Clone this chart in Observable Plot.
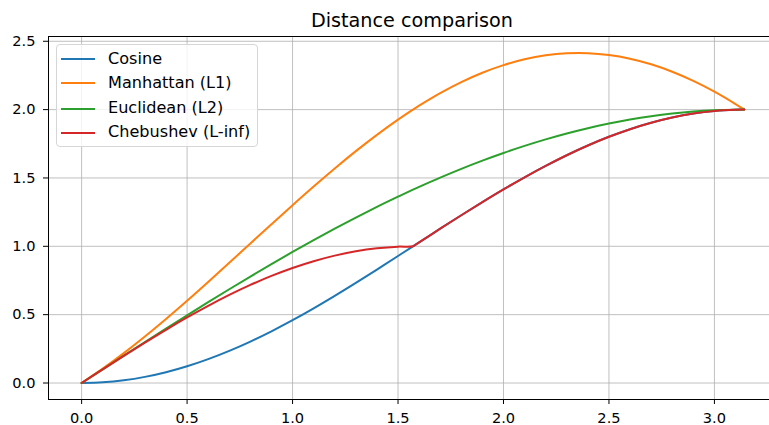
<!DOCTYPE html>
<html>
<head>
<meta charset="utf-8">
<script src="https://cdn.jsdelivr.net/npm/d3@7"></script>
<script src="https://cdn.jsdelivr.net/npm/@observablehq/plot@0.6"></script>
<style>
  html, body { margin: 0; padding: 0; background: #fff; overflow: hidden; }
  #wrap { position: relative; width: 769px; height: 425px; font-family: "DejaVu Sans", sans-serif; }
  #title { position: absolute; left: 0; width: 824px; top: 11px; text-align: center; font-size: 19.2px; color: #000; line-height: 1; white-space: nowrap; }
  #legend { position: absolute; left: 56px; top: 44px; width: 202px; height: 103px; box-sizing: border-box;
            border: 1px solid #d6d6d6; border-radius: 4px; background: rgba(255,255,255,0.8); }
  .row { position: absolute; left: 0; height: 20px; display: flex; align-items: center; font-size: 16.1px; color: #000; white-space: nowrap; }
  .swatch { position: absolute; left: 4px; width: 34px; height: 0; border-top: 2px solid; }
  .lbl { position: absolute; left: 51px; line-height: 1; }
</style>
</head>
<body>
<div id="wrap">
  <div id="chart"></div>
  <div id="title">Distance comparison</div>
  <div id="legend"></div>
</div>
<script>
// angle theta (radians) sampled from 0 to pi
const theta = [0, 0.1, 0.2, 0.3, 0.4, 0.5, 0.6, 0.7, 0.8, 0.9, 1.0, 1.1, 1.2, 1.3, 1.4, 1.5, 1.5708, 1.6, 1.7, 1.8, 1.9, 2.0, 2.1, 2.2, 2.3, 2.4, 2.5, 2.6, 2.7, 2.8, 2.9, 3.0, 3.1, 3.1416];
const cosineDist = [0, 0.0050, 0.0199, 0.0447, 0.0789, 0.1224, 0.1747, 0.2352, 0.3033, 0.3784, 0.4597, 0.5464, 0.6376, 0.7325, 0.8300, 0.9293, 1.0, 1.0292, 1.1288, 1.2272, 1.3233, 1.4162, 1.5049, 1.5885, 1.6663, 1.7374, 1.8011, 1.8569, 1.9041, 1.9422, 1.9710, 1.9900, 1.9991, 2.0];
const manhattanDist = [0, 0.1048, 0.2186, 0.3402, 0.4684, 0.6018, 0.7393, 0.8794, 1.0207, 1.1617, 1.3012, 1.4376, 1.5697, 1.6961, 1.8155, 1.9268, 2.0, 2.0288, 2.1205, 2.2011, 2.2696, 2.3255, 2.3681, 2.3970, 2.4120, 2.4129, 2.3996, 2.3724, 2.3315, 2.2772, 2.2102, 2.1311, 2.0407, 2.0];
const euclideanDist = [0, 0.1000, 0.1997, 0.2989, 0.3973, 0.4948, 0.5910, 0.6857, 0.7788, 0.8700, 0.9589, 1.0454, 1.1293, 1.2104, 1.2884, 1.3633, 1.4142, 1.4347, 1.5025, 1.5667, 1.6268, 1.6829, 1.7348, 1.7824, 1.8255, 1.8641, 1.8980, 1.9271, 1.9514, 1.9709, 1.9855, 1.9950, 1.9996, 2.0];
const chebyshevDist = [0, 0.0998, 0.1987, 0.2955, 0.3894, 0.4794, 0.5646, 0.6442, 0.7174, 0.7833, 0.8415, 0.8912, 0.9320, 0.9636, 0.9854, 0.9975, 1.0, 1.0292, 1.1288, 1.2272, 1.3233, 1.4162, 1.5049, 1.5885, 1.6663, 1.7374, 1.8011, 1.8569, 1.9041, 1.9422, 1.9710, 1.9900, 1.9991, 2.0];

const seriesNames = ["Cosine", "Manhattan (L1)", "Euclidean (L2)", "Chebushev (L-inf)"];
const seriesColors = ["#1f77b4", "#ff7f0e", "#2ca02c", "#d62728"];
const seriesValues = [cosineDist, manhattanDist, euclideanDist, chebyshevDist];

const xTicks = [0, 0.5, 1.0, 1.5, 2.0, 2.5, 3.0];
const yTicks = [0, 0.5, 1.0, 1.5, 2.0, 2.5];
const xDomain = [-0.157, 3.299];
const yDomain = [-0.1207, 2.5349];

const data = [];
seriesNames.forEach((name, i) => {
  theta.forEach((t, j) => data.push({series: name, x: t, y: seriesValues[i][j]}));
});

const fmt = d3.format(".1f");
const chart = Plot.plot({
  width: 769,
  height: 425,
  marginLeft: 48,
  marginRight: 0,
  marginTop: 36,
  marginBottom: 26,
  style: {fontFamily: "DejaVu Sans, sans-serif", fontSize: "14.6px", color: "#000", background: "#fff", overflow: "visible"},
  x: {domain: xDomain, range: [48, 777], label: null},
  y: {domain: yDomain, label: null},
  color: {domain: seriesNames, range: seriesColors},
  marks: [
    Plot.ruleX(xTicks, {x: d => d, stroke: "#b0b0b0", strokeWidth: 0.8}),
    Plot.ruleY(yTicks, {y: d => d, stroke: "#b0b0b0", strokeWidth: 0.8}),
    Plot.line(data, {x: "x", y: "y", z: "series", stroke: "series", strokeWidth: 2, curve: "catmull-rom"}),
    Plot.ruleX([xDomain[0]], {stroke: "#000", strokeWidth: 1}),
    Plot.ruleY([yDomain[0]], {stroke: "#000", strokeWidth: 1}),
    Plot.ruleY([yDomain[1]], {stroke: "#000", strokeWidth: 1}),
    Plot.axisX(xTicks, {tickSize: 5, tickPadding: 8, tickFormat: fmt, fontSize: 14.6, stroke: "#000", fill: "#000", label: null}),
    Plot.axisY(yTicks, {tickSize: 5, tickPadding: 8, tickFormat: fmt, fontSize: 14.6, stroke: "#000", fill: "#000", label: null})
  ]
});
document.getElementById("chart").appendChild(chart);

const legend = document.getElementById("legend");
const rowTops = [4, 28, 53.5, 77.5];
seriesNames.forEach((name, i) => {
  const row = document.createElement("div");
  row.className = "row";
  row.style.top = rowTops[i] + "px";
  row.innerHTML = `<span class="swatch" style="border-color:${seriesColors[i]}"></span><span class="lbl">${name}</span>`;
  legend.appendChild(row);
});
</script>
</body>
</html>
